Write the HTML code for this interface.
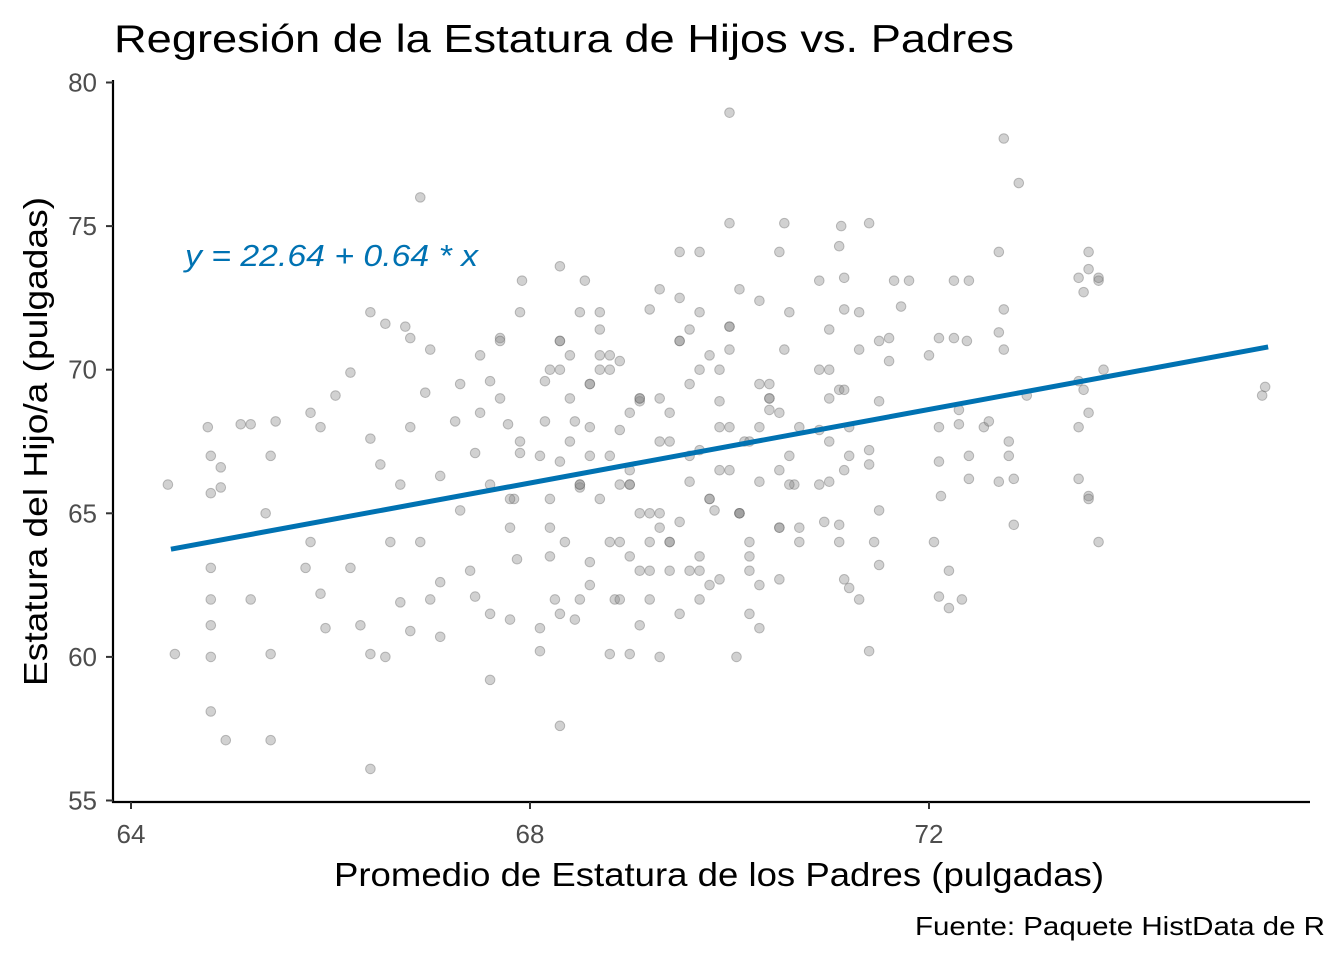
<!DOCTYPE html>
<html><head><meta charset="utf-8">
<style>
html,body{margin:0;padding:0;background:#fff;}
svg{display:block;font-family:"Liberation Sans",Arial,sans-serif;}
</style></head>
<body>
<svg id="chart" width="1344" height="960" viewBox="0 0 1344 960">
<text x="114" y="52" font-size="39" textLength="900" lengthAdjust="spacingAndGlyphs" fill="#000">Regresión de la Estatura de Hijos vs. Padres</text>
<g id="points"></g>
<line id="regline" stroke="#0072B2" stroke-width="5"/>
<text x="185" y="266" font-size="31" font-style="italic" textLength="293" lengthAdjust="spacingAndGlyphs" fill="#0072B2">y = 22.64 + 0.64 * x</text>
<line x1="113" y1="80" x2="113" y2="803" stroke="#000" stroke-width="2.2"/>
<line x1="112" y1="802" x2="1310" y2="802" stroke="#000" stroke-width="2.2"/>
<g id="yticks"></g>
<g id="xticks"></g>
<text x="334" y="886" font-size="33" textLength="770" lengthAdjust="spacingAndGlyphs" fill="#000">Promedio de Estatura de los Padres (pulgadas)</text>
<text transform="translate(47,686) rotate(-90)" font-size="33" textLength="489" lengthAdjust="spacingAndGlyphs" fill="#000">Estatura del Hijo/a (pulgadas)</text>
<text x="915" y="935" font-size="26" textLength="410" lengthAdjust="spacingAndGlyphs" fill="#000">Fuente: Paquete HistData de R</text>
</svg>
<script>
const xTicks=[64,68,72];
const yTicks=[55,60,65,70,75,80];
const intercept=22.64;
const slope=0.64;
const lineRange=[64.4,75.4];
const pointsX=[64.37,64.44,64.77,64.8,64.8,64.8,64.8,64.8,64.8,64.8,64.95,65.4,65.1,65.2,64.9,64.9,65.2,65.4,65.35,65.4,65.45,
65.8,65.9,66.05,66.2,66.4,66.55,66.75,66.8,66.4,66.5,66.4,66.4,66.55,66.3,65.9,65.75,65.95,65.8,66.2,66.7,66.8,66.9,67.1,67.1,67.25,67.3,67.45,67.6,67.6,67.45,67.3,67.1,67.0,66.95,67.7,67.78,67.84,67.87,67.8,67.9,67.92,
68.3,68.3,68.1,68.25,68.35,68.5,68.45,68.6,68.7,68.55,68.8,68.85,68.8,69.0,69.1,69.3,69.2,69.3,69.5,69.7,70.0,70.0,70.1,70.3,70.5,70.55,70.07,70.3,70.5,70.2,69.85,69.6,69.3,69.1,68.9,69.7,69.9,70.15,70.4,70.3,69.7,69.4,69.1,68.7,68.3,68.15,68.15,68.3,69.6,70.0,70.55,69.7,68.9,69.5,68.6,69.9,69.2,68.45,70.65,70.7,
68.2,68.4,68.6,68.8,69.0,69.2,69.4,69.6,69.8,70.0,70.2,70.4,68.3,68.5,68.7,68.9,69.1,69.3,69.5,69.7,69.9,70.1,70.3,70.5,68.2,68.6,69.0,69.4,69.8,70.2,70.6,68.4,68.8,69.2,69.6,70.0,70.4,68.5,69.0,69.5,70.0,70.5,
68.1,68.3,68.5,68.7,68.9,69.1,69.3,69.5,69.7,69.9,70.1,70.3,70.5,70.7,68.2,68.4,68.6,68.8,69.0,69.2,69.4,69.6,69.8,70.0,70.2,70.4,70.6,68.1,68.5,68.9,69.3,69.7,70.1,70.5,68.3,68.7,69.1,69.5,69.9,70.3,70.7,68.2,68.6,69.0,69.4,69.8,70.2,70.6,
67.5,67.7,67.9,67.6,67.8,67.4,67.6,67.8,67.5,67.7,67.9,71.0,71.2,70.9,71.1,71.3,71.0,71.2,70.9,66.6,66.8,67.0,66.7,66.9,
71.1,71.12,71.4,71.8,70.9,71.15,71.3,71.0,71.3,71.5,71.6,71.1,71.15,71.5,70.9,71.0,71.4,71.15,71.0,71.4,71.5,70.95,71.1,71.45,71.5,71.15,71.2,71.4,71.15,71.65,71.72,71.6,
72.0,72.1,72.25,72.38,72.4,72.25,72.7,72.75,72.75,72.7,72.75,72.98,72.3,72.3,72.1,72.55,72.8,72.8,72.1,72.4,72.7,72.12,72.4,72.85,72.05,72.2,72.1,72.2,72.33,72.6,72.85,72.9,
73.6,73.55,73.5,73.6,73.7,73.75,73.5,73.55,73.6,73.5,73.5,73.6,73.6,73.7,73.7,75.37,75.34,75.34];
const pointsY=[66.0,60.1,68.0,67.0,65.7,63.1,62.0,61.1,60.0,58.1,57.1,57.1,68.1,68.1,66.6,65.9,62.0,67.0,65.0,60.1,68.2,
68.5,68.0,69.1,69.9,72.0,71.6,71.5,71.1,67.6,66.7,60.1,56.1,60.0,61.1,62.2,63.1,61.0,64.0,63.1,61.9,60.9,64.0,62.6,60.7,68.2,69.5,67.1,69.6,59.2,62.1,65.1,66.3,70.7,69.2,71.1,68.1,65.5,63.4,61.3,67.1,73.1,
57.6,73.6,60.2,62.0,64.0,65.9,68.2,69.5,71.4,73.1,64.0,62.0,60.1,60.1,61.1,60.0,72.1,72.8,74.1,74.1,78.95,75.1,72.8,72.4,74.1,75.1,60.0,61.0,62.7,64.0,65.1,66.1,67.5,68.9,70.3,70.0,68.9,67.5,68.6,66.1,62.0,63.0,63.0,65.5,66.8,68.2,69.6,71.0,71.4,70.7,70.7,67.2,67.9,64.7,63.3,62.7,62.0,61.3,66.0,64.0,
70.0,69.0,68.0,67.0,66.0,65.0,64.0,63.0,65.5,66.5,67.5,69.0,71.0,72.0,70.5,66.0,65.0,69.0,71.0,63.5,70.0,65.0,68.0,64.5,64.5,67.0,66.5,64.0,62.5,61.5,66.0,70.5,70.0,63.0,69.5,71.5,69.5,62.0,68.5,61.5,68.0,64.5,
67.0,70.0,66.0,72.0,64.0,69.0,65.0,71.0,63.0,68.0,65.0,69.5,66.5,64.5,63.5,67.5,62.5,70.5,66.0,64.0,68.5,67.0,65.5,71.5,63.0,69.0,67.0,61.0,66.0,62.0,64.5,72.0,65.0,68.5,61.5,70.0,69.0,72.5,66.5,62.5,68.0,65.5,69.5,63.5,67.5,70.5,63.5,
72.0,70.5,69.0,67.5,66.0,64.5,63.0,61.5,65.5,68.5,71.0,72.0,70.0,68.0,66.0,64.0,62.0,69.0,67.0,70.0,64.0,68.0,62.0,66.0,
76.0,74.3,75.0,75.1,73.1,73.1,72.1,72.0,71.4,70.7,71.0,70.3,69.3,69.3,68.9,67.9,67.5,67.2,66.5,66.1,66.7,65.1,64.7,64.6,64.0,63.2,62.7,62.4,60.2,73.2,73.1,72.2,
71.1,70.5,71.1,71.1,71.0,73.1,73.1,74.1,78.05,72.1,71.3,70.7,69.1,68.6,68.1,68.0,68.0,67.5,67.0,66.8,67.0,66.1,65.6,66.2,64.6,64.0,63.0,62.1,61.7,62.0,68.2,66.2,
76.5,73.5,72.7,73.2,74.1,73.1,70.0,69.6,69.3,68.5,68.0,66.2,65.6,65.5,64.0,73.2,69.4,69.1];

const NS="http://www.w3.org/2000/svg";
function sx(v){return 131+(v-64)*99.75;}
function sy(v){return 800.5-(v-55)*28.72;}
const pg=document.getElementById('points');
const n=Math.min(pointsX.length,pointsY.length);
for(let i=0;i<n;i++){
  const c=document.createElementNS(NS,'circle');
  c.setAttribute('cx',sx(pointsX[i]));c.setAttribute('cy',sy(pointsY[i]));c.setAttribute('r',4.8);
  c.setAttribute('fill','rgba(135,135,135,0.38)');c.setAttribute('stroke','rgba(100,100,100,0.4)');c.setAttribute('stroke-width','1');
  
  
  pg.appendChild(c);
}
const rl=document.getElementById('regline');
rl.setAttribute('x1',sx(lineRange[0]));rl.setAttribute('y1',sy(intercept+slope*lineRange[0])+3);
rl.setAttribute('x2',sx(lineRange[1]));rl.setAttribute('y2',sy(intercept+slope*lineRange[1])+3);
const yg=document.getElementById('yticks');
yTicks.forEach(t=>{
  const l=document.createElementNS(NS,'line');
  l.setAttribute('x1',106);l.setAttribute('x2',113);l.setAttribute('y1',sy(t));l.setAttribute('y2',sy(t));
  l.setAttribute('stroke','#333');l.setAttribute('stroke-width','2');
  
  
  yg.appendChild(l);
  const tx=document.createElementNS(NS,'text');
  tx.setAttribute('x',97);tx.setAttribute('y',sy(t)+9);tx.setAttribute('text-anchor','end');
  tx.setAttribute('font-size','26');tx.setAttribute('fill','#4d4d4d');tx.textContent=t;
  
  
  yg.appendChild(tx);
});
const xg=document.getElementById('xticks');
xTicks.forEach(t=>{
  const l=document.createElementNS(NS,'line');
  l.setAttribute('x1',sx(t));l.setAttribute('x2',sx(t));l.setAttribute('y1',802);l.setAttribute('y2',809);
  l.setAttribute('stroke','#333');l.setAttribute('stroke-width','2');
  
  
  xg.appendChild(l);
  const tx=document.createElementNS(NS,'text');
  tx.setAttribute('x',sx(t));tx.setAttribute('y',843);tx.setAttribute('text-anchor','middle');
  tx.setAttribute('font-size','26');tx.setAttribute('fill','#4d4d4d');tx.textContent=t;
  
  
  xg.appendChild(tx);
});
</script>
</body></html>
